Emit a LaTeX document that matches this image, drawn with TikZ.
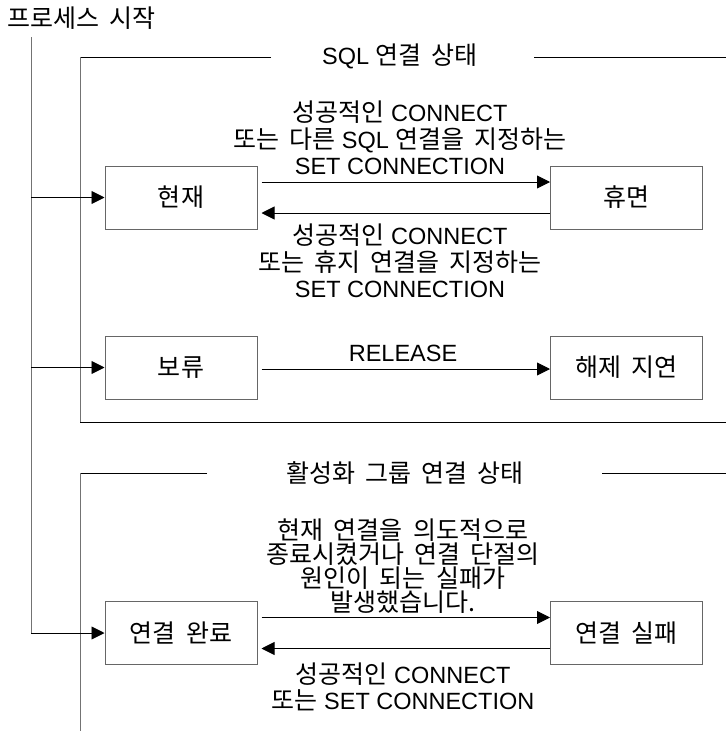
\documentclass[tikz,border=0pt]{standalone}
\usepackage{fontspec}
\setmainfont{Liberation Sans}
\newfontfamily\kr[Scale=1.064,WordSpace=1.8]{Noto Sans CJK KR}
\usetikzlibrary{arrows.meta}

\tikzset{
  state/.style={draw=black!60, line width=1pt, minimum width=152pt, minimum height=63pt,
    inner sep=0pt, font=\fontsize{23.5}{27}\selectfont\kr},
  lbl/.style={align=center, inner sep=0pt, font=\fontsize{23.5}{26.5}\selectfont},
  ttl/.style={inner sep=0pt, font=\fontsize{23.5}{27}\selectfont\kr},
  arr/.style={line width=0.9pt, -{Triangle[length=13pt,width=13pt]}},
  frameline/.style={line width=1pt},
  vline/.style={line width=1pt, draw=black!55},
}

\begin{document}
\begin{tikzpicture}[x=1pt,y=-1pt]
\useasboundingbox (0,0) rectangle (726,731);

% process start and its trunk line
\node[ttl, anchor=west] (start) at (7,18) {프로세스 시작};
\coordinate (trunk) at (31,37);

% SQL connection states
\node[ttl] (sqlttl) at (400,56) {{\rmfamily SQL }연결 상태};
\draw[frameline] (271,57) -- (80,57);
\draw[frameline] (534,57) -- (726,57);
\draw[vline] (80,57) -- (80,422);
\draw[frameline] (80,422) -- (726,422);

\node[state] (cur) at (181,197.5) {현재};
\node[state] (dorm) at (626.5,197.5) {휴면};
\node[state] (held) at (181,367.5) {보류};
\node[state] (relp) at (626.5,367.5) {해제 지연};

% activation group connection states
\node[ttl] (grpttl) at (405,473) {활성화 그룹 연결 상태};
\draw[frameline] (207,473) -- (80,473);
\draw[frameline] (602,473) -- (726,473);
\draw[vline] (80,473) -- (80,731);

\node[state] (ok) at (181,633) {연결 완료};
\node[state] (fail) at (626.5,633) {연결 실패};

% trunk and branches
\draw[vline] (trunk) -- (trunk |- ok.west);
\draw[arr] (trunk |- ok.west) -- (ok.west);
\draw[arr] (trunk |- cur.west) -- (cur.west);
\draw[arr] (trunk |- held.west) -- (held.west);

% transitions (y axis points down, so a positive yshift moves up)
\draw[arr, shorten <=4pt] ([yshift=15.5pt]cur.east) -- ([yshift=15.5pt]dorm.west);
\draw[arr, shorten >=4pt] ([yshift=-15.5pt]dorm.west) -- ([yshift=-15.5pt]cur.east);
\draw[arr, shorten <=4pt] ([yshift=-1.5pt]held.east) -- ([yshift=-1.5pt]relp.west);
\draw[arr, shorten <=4pt] ([yshift=15.5pt]ok.east) -- ([yshift=15.5pt]fail.west);
\draw[arr, shorten >=4pt] ([yshift=-15.5pt]fail.west) -- ([yshift=-15.5pt]ok.east);

% transition labels
\node[lbl] (l1) at (400,138) {{\kr 성공적인} CONNECT\\{\kr 또는 다른} SQL {\kr 연결을 지정하는}\\SET CONNECTION};
\node[lbl] (l2) at (400,261) {{\kr 성공적인} CONNECT\\{\kr 또는 휴지 연결을 지정하는}\\SET CONNECTION};
\node[lbl] (l3) at (403,353) {RELEASE};
\node[lbl, font=\fontsize{23.5}{24}\selectfont\kr] (l4) at (403,566) {현재 연결을 의도적으로\\종료시켰거나 연결 단절의\\원인이 되는 실패가\\발생했습니다.};
\node[lbl, font=\fontsize{23.5}{26}\selectfont] (l5) at (403,687) {{\kr 성공적인} CONNECT\\{\kr 또는} SET CONNECTION};
\end{tikzpicture}
\end{document}
